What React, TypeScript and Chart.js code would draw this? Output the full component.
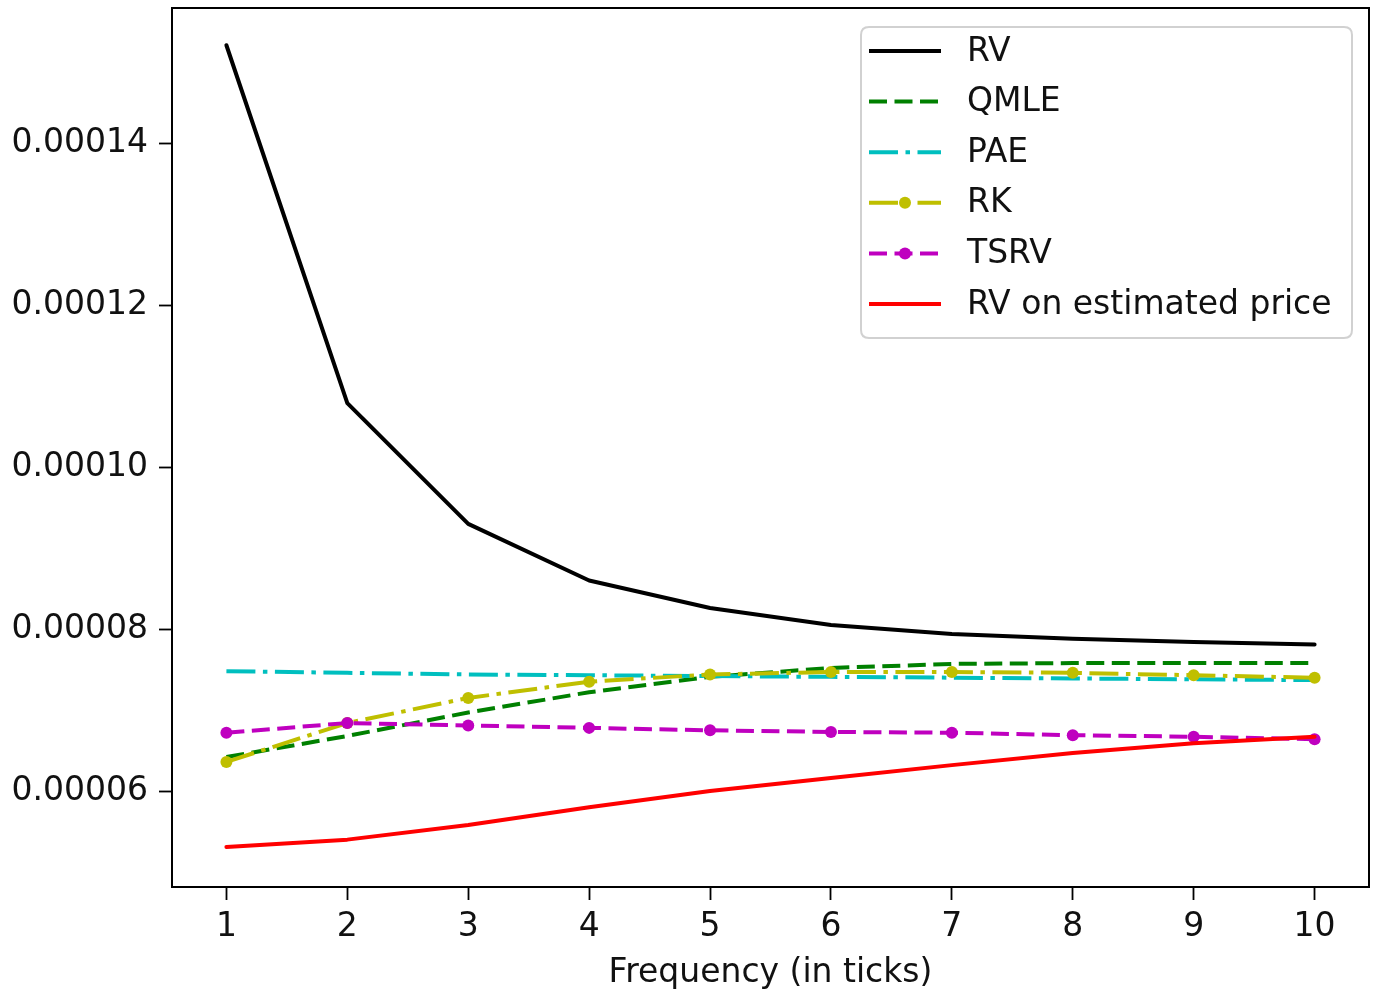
import React, { useEffect, useRef } from "react";
import { Chart, registerables } from "chart.js";

Chart.register(...registerables);

// ---- data ----
const frequencies = [1, 2, 3, 4, 5, 6, 7, 8, 9, 10];
const rv = [0.0001521, 0.0001079, 0.000093, 0.000086, 0.0000826, 0.0000805, 0.0000794, 0.0000788, 0.0000784, 0.0000781];
const qmle = [0.0000642, 0.0000668, 0.0000697, 0.0000722, 0.0000741, 0.0000752, 0.0000757, 0.0000758, 0.0000758, 0.0000758];
const pae = [0.0000748, 0.0000746, 0.0000744, 0.0000743, 0.0000742, 0.0000741, 0.000074, 0.0000739, 0.0000738, 0.0000737];
const rk = [0.0000636, 0.0000684, 0.0000715, 0.0000735, 0.0000744, 0.0000747, 0.0000747, 0.0000746, 0.0000743, 0.000074];
const tsrv = [0.0000672, 0.0000684, 0.0000681, 0.0000678, 0.0000675, 0.0000673, 0.0000672, 0.0000669, 0.0000667, 0.0000664];
const rvEst = [0.0000531, 0.000054, 0.0000558, 0.000058, 0.00006, 0.0000616, 0.0000632, 0.0000647, 0.0000659, 0.0000667];
const yTicks = [0.00006, 0.00008, 0.0001, 0.00012, 0.00014];
const xTicks = frequencies;
const seriesNames = ["RV", "QMLE", "PAE", "RK", "TSRV", "RV on estimated price"];
const xTitle = "Frequency (in ticks)";

const FONT = "'DejaVu Sans', sans-serif";
const FS = 33;
const LW = 4;
const DASH = [18, 7.5];
const DASHDOT = [29, 7.5, 4.5, 7.5];

const framePlugin = {
  id: "frameLegend",
  afterDatasetsDraw(chart: any) {
    const { ctx, chartArea } = chart;
    ctx.save();
    ctx.setLineDash([]);
    ctx.strokeStyle = "#000";
    ctx.lineWidth = 2;
    ctx.strokeRect(chartArea.left, chartArea.top, chartArea.right - chartArea.left, chartArea.bottom - chartArea.top);
    ctx.restore();
  },
  afterDraw(chart: any) {
    const { ctx, chartArea } = chart;
    ctx.save();
    const bx = chartArea.right - 508;
    const by = chartArea.top + 19;
    const bw = 491;
    const bh = 311;
    const r = 8;
    ctx.beginPath();
    ctx.moveTo(bx + r, by);
    ctx.lineTo(bx + bw - r, by);
    ctx.quadraticCurveTo(bx + bw, by, bx + bw, by + r);
    ctx.lineTo(bx + bw, by + bh - r);
    ctx.quadraticCurveTo(bx + bw, by + bh, bx + bw - r, by + bh);
    ctx.lineTo(bx + r, by + bh);
    ctx.quadraticCurveTo(bx, by + bh, bx, by + bh - r);
    ctx.lineTo(bx, by + r);
    ctx.quadraticCurveTo(bx, by, bx + r, by);
    ctx.closePath();
    ctx.fillStyle = "rgba(255,255,255,0.8)";
    ctx.fill();
    ctx.strokeStyle = "rgba(204,204,204,0.9)";
    ctx.lineWidth = 2;
    ctx.stroke();

    chart.data.datasets.forEach((ds: any, i: number) => {
      const y = by + 24 + i * 50.6;
      const x0 = bx + 8;
      const x1 = bx + 80;
      ctx.beginPath();
      ctx.setLineDash(ds.borderDash || []);
      ctx.lineCap = "butt";
      ctx.strokeStyle = ds.borderColor;
      ctx.lineWidth = ds.borderWidth;
      ctx.moveTo(x0, y);
      ctx.lineTo(x1, y);
      ctx.stroke();
      if (ds.pointRadius > 0) {
        ctx.setLineDash([]);
        ctx.beginPath();
        ctx.arc((x0 + x1) / 2, y, ds.pointRadius, 0, Math.PI * 2);
        ctx.fillStyle = ds.borderColor;
        ctx.fill();
      }
      ctx.setLineDash([]);
      ctx.fillStyle = "#111";
      ctx.font = `${FS}px ${FONT}`;
      ctx.textBaseline = "middle";
      ctx.textAlign = "left";
      ctx.fillText(ds.label, bx + 106, y + 1);
    });
    ctx.restore();
  },
};

export default function App() {
  const canvasRef = useRef<HTMLCanvasElement | null>(null);

  useEffect(() => {
    const canvas = canvasRef.current;
    if (!canvas) return;
    const series = [rv, qmle, pae, rk, tsrv, rvEst];
    const colors = ["#000000", "#008000", "#00bfbf", "#bfbf00", "#bf00bf", "#ff0000"];
    const dashes = [[], DASH, DASHDOT, DASHDOT, DASH, []];
    const radii = [0, 0, 0, 6, 6, 0];
    const n = series.length;
    const datasets = series.map((vals, i) => ({
      label: seriesNames[i],
      data: frequencies.map((f, j) => ({ x: f, y: vals[j] })),
      borderColor: colors[i],
      backgroundColor: colors[i],
      borderWidth: LW,
      borderDash: dashes[i],
      borderCapStyle: dashes[i].length ? "butt" : "round",
      borderJoinStyle: "round",
      pointRadius: radii[i],
      pointBorderWidth: 0,
      pointBackgroundColor: colors[i],
      pointHoverRadius: radii[i],
      tension: 0,
      fill: false,
      order: n - i,
    }));

    const chart = new Chart(canvas, {
      type: "line",
      data: { datasets } as any,
      options: {
        animation: false,
        responsive: true,
        maintainAspectRatio: false,
        layout: { padding: { top: 8, right: 10, left: 0, bottom: 0 } },
        plugins: {
          legend: { display: false },
          tooltip: { enabled: false },
        },
        scales: {
          x: {
            type: "linear",
            min: 0.55,
            max: 10.45,
            afterBuildTicks: (scale: any) => {
              scale.ticks = xTicks.map((v) => ({ value: v }));
            },
            afterFit: (scale: any) => {
              scale.height = 106;
              scale.paddingLeft = 0;
              scale.paddingRight = 0;
            },
            ticks: {
              color: "#111",
              font: { family: FONT, size: FS },
              padding: 8,
              maxRotation: 0,
              autoSkip: false,
              callback: (v: any) => String(v),
            },
            grid: {
              drawOnChartArea: false,
              drawTicks: true,
              tickLength: 13,
              tickWidth: 1.8,
              tickColor: "#000",
            },
            border: { display: false },
            title: {
              display: true,
              text: xTitle,
              color: "#111",
              font: { family: FONT, size: FS },
              padding: { top: 0, bottom: 0 },
            },
          },
          y: {
            type: "linear",
            min: 0.00004815,
            max: 0.0001567,
            afterBuildTicks: (scale: any) => {
              scale.ticks = yTicks.map((v) => ({ value: v }));
            },
            afterFit: (scale: any) => {
              scale.width = 172;
              scale.paddingTop = 0;
              scale.paddingBottom = 0;
            },
            ticks: {
              color: "#111",
              font: { family: FONT, size: FS },
              padding: 11,
              autoSkip: false,
              callback: (v: any) => Number(v).toFixed(5),
            },
            grid: {
              drawOnChartArea: false,
              drawTicks: true,
              tickLength: 13,
              tickWidth: 1.8,
              tickColor: "#000",
            },
            border: { display: false },
          },
        },
      } as any,
      plugins: [framePlugin],
    });
    return () => chart.destroy();
  }, []);

  return (
    <div style={{ position: "fixed", left: 0, top: 0, width: 1379, height: 993, background: "#fff" }}>
      <canvas ref={canvasRef} />
    </div>
  );
}
